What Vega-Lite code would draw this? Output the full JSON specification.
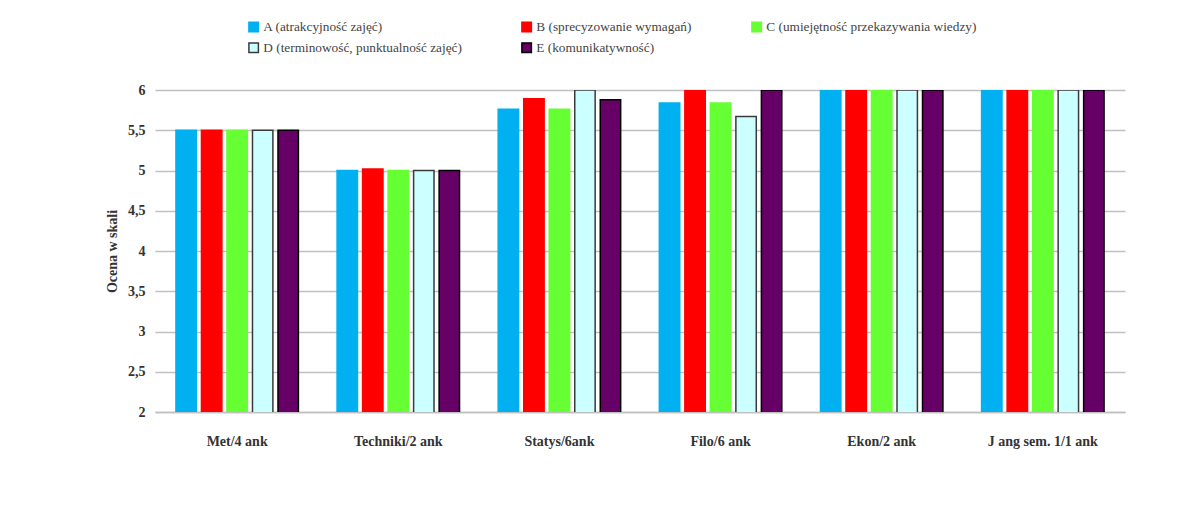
{
  "$schema": "https://vega.github.io/schema/vega-lite/v6.json",
  "autosize": "none",
  "width": 970,
  "height": 322,
  "padding": {"left": 155, "top": 90, "right": 76, "bottom": 114},
  "background": "white",
  "data": {
    "values": [
      {"grupa": "Met/4 ank", "seria": "A (atrakcyjność zajęć)", "ocena": 5.5},
      {"grupa": "Met/4 ank", "seria": "B (sprecyzowanie wymagań)", "ocena": 5.5},
      {"grupa": "Met/4 ank", "seria": "C (umiejętność przekazywania wiedzy)", "ocena": 5.5},
      {"grupa": "Met/4 ank", "seria": "D (terminowość, punktualność zajęć)", "ocena": 5.5},
      {"grupa": "Met/4 ank", "seria": "E (komunikatywność)", "ocena": 5.5},
      {"grupa": "Techniki/2 ank", "seria": "A (atrakcyjność zajęć)", "ocena": 5.0},
      {"grupa": "Techniki/2 ank", "seria": "B (sprecyzowanie wymagań)", "ocena": 5.02},
      {"grupa": "Techniki/2 ank", "seria": "C (umiejętność przekazywania wiedzy)", "ocena": 5.0},
      {"grupa": "Techniki/2 ank", "seria": "D (terminowość, punktualność zajęć)", "ocena": 5.0},
      {"grupa": "Techniki/2 ank", "seria": "E (komunikatywność)", "ocena": 5.0},
      {"grupa": "Statys/6ank", "seria": "A (atrakcyjność zajęć)", "ocena": 5.76},
      {"grupa": "Statys/6ank", "seria": "B (sprecyzowanie wymagań)", "ocena": 5.89},
      {"grupa": "Statys/6ank", "seria": "C (umiejętność przekazywania wiedzy)", "ocena": 5.76},
      {"grupa": "Statys/6ank", "seria": "D (terminowość, punktualność zajęć)", "ocena": 6.0},
      {"grupa": "Statys/6ank", "seria": "E (komunikatywność)", "ocena": 5.88},
      {"grupa": "Filo/6 ank", "seria": "A (atrakcyjność zajęć)", "ocena": 5.84},
      {"grupa": "Filo/6 ank", "seria": "B (sprecyzowanie wymagań)", "ocena": 6.0},
      {"grupa": "Filo/6 ank", "seria": "C (umiejętność przekazywania wiedzy)", "ocena": 5.84},
      {"grupa": "Filo/6 ank", "seria": "D (terminowość, punktualność zajęć)", "ocena": 5.67},
      {"grupa": "Filo/6 ank", "seria": "E (komunikatywność)", "ocena": 6.0},
      {"grupa": "Ekon/2 ank", "seria": "A (atrakcyjność zajęć)", "ocena": 6.0},
      {"grupa": "Ekon/2 ank", "seria": "B (sprecyzowanie wymagań)", "ocena": 6.0},
      {"grupa": "Ekon/2 ank", "seria": "C (umiejętność przekazywania wiedzy)", "ocena": 6.0},
      {"grupa": "Ekon/2 ank", "seria": "D (terminowość, punktualność zajęć)", "ocena": 6.0},
      {"grupa": "Ekon/2 ank", "seria": "E (komunikatywność)", "ocena": 6.0},
      {"grupa": "J ang sem. 1/1 ank", "seria": "A (atrakcyjność zajęć)", "ocena": 6.0},
      {"grupa": "J ang sem. 1/1 ank", "seria": "B (sprecyzowanie wymagań)", "ocena": 6.0},
      {"grupa": "J ang sem. 1/1 ank", "seria": "C (umiejętność przekazywania wiedzy)", "ocena": 6.0},
      {"grupa": "J ang sem. 1/1 ank", "seria": "D (terminowość, punktualność zajęć)", "ocena": 6.0},
      {"grupa": "J ang sem. 1/1 ank", "seria": "E (komunikatywność)", "ocena": 6.0}
    ]
  },
  "mark": {"type": "bar", "strokeWidth": 1.5, "clip": true},
  "encoding": {
    "x": {
      "field": "grupa",
      "type": "nominal",
      "sort": null,
      "scale": {"paddingInner": 0.24, "paddingOuter": 0.13},
      "axis": {
        "title": null,
        "labelAngle": 0,
        "ticks": false,
        "domainColor": "#c0c0c0",
        "domainWidth": 1.5,
        "labelFontWeight": "bold",
        "labelFontSize": 14,
        "labelColor": "#333333",
        "labelPadding": 22
      }
    },
    "xOffset": {
      "field": "seria",
      "type": "nominal",
      "sort": null,
      "scale": {"paddingInner": 0.2}
    },
    "y": {
      "field": "ocena",
      "type": "quantitative",
      "scale": {"domain": [2, 6], "zero": false},
      "axis": {
        "title": "Ocena w skali",
        "values": [2, 2.5, 3, 3.5, 4, 4.5, 5, 5.5, 6],
        "labelExpr": "replace(format(datum.value, '.1~f'), '.', ',')",
        "domain": false,
        "ticks": false,
        "gridColor": "#c0c0c0",
        "gridWidth": 1.5,
        "labelFontWeight": "bold",
        "labelFontSize": 14,
        "labelColor": "#333333",
        "labelPadding": 10,
        "titleFontWeight": "bold",
        "titleFontSize": 14,
        "titleColor": "#333333",
        "titlePadding": 8
      }
    },
    "fill": {
      "field": "seria",
      "type": "nominal",
      "sort": null,
      "scale": {
        "domain": ["A (atrakcyjność zajęć)", "B (sprecyzowanie wymagań)", "C (umiejętność przekazywania wiedzy)", "D (terminowość, punktualność zajęć)", "E (komunikatywność)"],
        "range": ["#00B0F0", "#FF0000", "#66FF33", "#CCFFFF", "#660066"]
      },
      "legend": {
        "title": null,
        "orient": "none",
        "legendX": 92,
        "legendY": -70,
        "direction": "horizontal",
        "columns": 3,
        "columnPadding": 56
      }
    },
    "stroke": {
      "field": "seria",
      "type": "nominal",
      "sort": null,
      "scale": {
        "domain": ["A (atrakcyjność zajęć)", "B (sprecyzowanie wymagań)", "C (umiejętność przekazywania wiedzy)", "D (terminowość, punktualność zajęć)", "E (komunikatywność)"],
        "range": ["#00B0F0", "#FF0000", "#66FF33", "#3a3a3a", "#000000"]
      },
      "legend": {
        "title": null,
        "orient": "none",
        "legendX": 92,
        "legendY": -70,
        "direction": "horizontal",
        "columns": 3,
        "columnPadding": 56
      }
    }
  },
  "config": {
    "font": "Liberation Serif",
    "view": {"stroke": null},
    "legend": {
      "rowPadding": 4,
      "symbolType": "square",
      "symbolSize": 90,
      "symbolStrokeWidth": 1.5,
      "labelOffset": 3,
      "labelFont": "Liberation Serif",
      "labelFontSize": 13.3,
      "labelColor": "#444444",
      "labelLimit": 400
    }
  }
}
